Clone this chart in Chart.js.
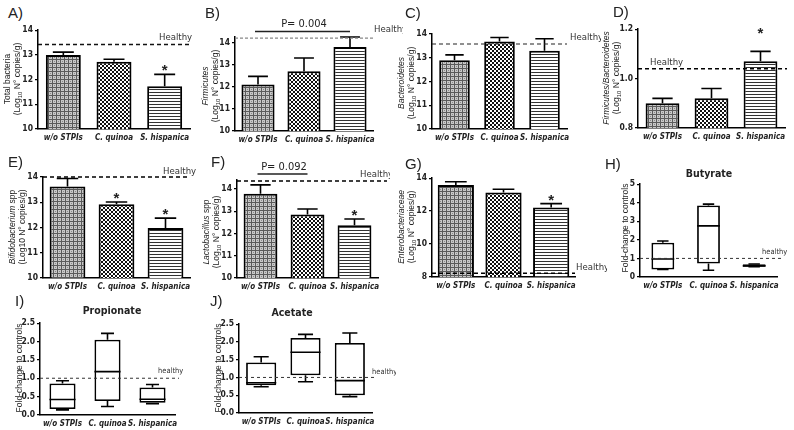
<!DOCTYPE html>
<html><head><meta charset="utf-8">
<script src="https://cdn.jsdelivr.net/npm/chart.js@4"></script>
<style>
body{margin:0;background:#fff;}
#wrap{position:relative;width:794px;height:430px;overflow:hidden;background:#fff;font-family:"Liberation Sans",Arial,sans-serif;color:#222;}
</style></head>
<body><div id="wrap"></div>
<script>
// ---------------- data ----------------
const categories = ['w/o STPIs', 'C. quinoa', 'S. hispanica'];

const totalBacteriaMean = [12.99, 12.72, 11.73];
const totalBacteriaSem  = [0.12, 0.1, 0.48];
const totalBacteriaHealthy = 13.42;

const firmicutesMean = [12.1, 12.7, 13.8];
const firmicutesSem  = [0.37, 0.6, 0.45];
const firmicutesHealthy = 14.2;

const bacteroidetesMean = [12.9, 13.68, 13.3];
const bacteroidetesSem  = [0.22, 0.17, 0.5];
const bacteroidetesHealthy = 13.58;

const fbRatioMean = [0.90, 0.92, 1.07];
const fbRatioSem  = [0.02, 0.04, 0.04];
const fbRatioHealthy = 1.04;

const bifidoMean = [13.62, 12.92, 11.98];
const bifidoSem  = [0.32, 0.09, 0.39];
const bifidoHealthy = 14.0;

const lactoMean = [13.78, 12.85, 12.37];
const lactoSem  = [0.4, 0.25, 0.28];
const lactoHealthy = 14.36;

const enteroMean = [13.58, 13.12, 12.22];
const enteroSem  = [0.2, 0.2, 0.23];
const enteroHealthy = 8.22;

// box stats: [min, q1, median, q3, max]
const butyrateBox   = [[0.4, 0.4, 0.97, 1.85, 1.94], [0.36, 0.72, 2.75, 3.85, 3.92], [0.55, 0.55, 0.6, 0.68, 0.7]];
const propionateBox = [[0.14, 0.16, 0.42, 0.86, 0.93], [0.23, 0.38, 1.18, 2.05, 2.22], [0.31, 0.33, 0.43, 0.75, 0.83]];
const acetateBox    = [[0.74, 0.78, 0.85, 1.42, 1.58], [0.88, 1.06, 1.71, 2.11, 2.21], [0.46, 0.5, 0.91, 1.97, 2.25]];
const scfaHealthy = 1.0;

const log14Ticks = [10, 11, 12, 13, 14];
const ratioTicks = [0.8, 1.0, 1.2];
const enteroTicks = [8, 10, 12, 14];
const butyrateTicks = [0, 1, 2, 3, 4, 5];
const scfaTicks = [0, 0.5, 1.0, 1.5, 2.0, 2.5];

// ---------------- rendering ----------------
const FONT = '"Liberation Sans", Arial, sans-serif';
const NARROW = '"Liberation Sans Narrow", "DejaVu Sans Condensed", "Liberation Sans", sans-serif';
Chart.defaults.font.family = NARROW;
const wrap = document.getElementById('wrap');

function makePattern(kind){
  const t = document.createElement('canvas');
  const g = t.getContext('2d');
  if(kind === 'grid'){
    t.width = 4; t.height = 4;
    g.fillStyle = '#c8c8c8'; g.fillRect(0,0,4,4);
    g.fillStyle = '#5a5a5a'; g.fillRect(0,0,4,1); g.fillRect(0,0,1,4);
    g.fillStyle = '#8a8a8a'; g.fillRect(2,2,1,1);
  } else if(kind === 'checker'){
    t.width = 4; t.height = 4;
    g.fillStyle = '#fff'; g.fillRect(0,0,4,4);
    g.fillStyle = '#111'; g.fillRect(0,0,2,2); g.fillRect(2,2,2,2);
  } else {
    t.width = 4; t.height = 3;
    g.fillStyle = '#fff'; g.fillRect(0,0,4,3);
    g.fillStyle = '#333'; g.fillRect(0,0,4,1);
  }
  return g.createPattern(t, 'repeat');
}
const barFills = [makePattern('grid'), makePattern('checker'), makePattern('stripes')];

function addText(html, css){
  const d = document.createElement('div');
  d.innerHTML = html;
  d.style.cssText = 'position:absolute;white-space:nowrap;' + css;
  wrap.appendChild(d);
  return d;
}
function yTitle(html, cx, cy, size, lh){
  const s = size || 8.5;
  addText(html, `left:${cx}px;top:${cy}px;transform:translate(-50%,-50%) rotate(-90deg);text-align:center;font:${s}px/${lh || 9.5}px ${FONT};color:#222;`);
}
function letter(t, x, y){
  addText(t, `left:${x}px;top:${y}px;font:15px ${FONT};color:#222;`);
}
function title(t, cx, cy){
  addText(t, `left:${cx}px;top:${cy}px;transform:translate(-50%,-50%);font:bold 10.5px ${NARROW};color:#222;`);
}
const SUB = '<sub style="font-size:6px;line-height:0">10</sub>';

function buildPanel(p){
  const yW = p.yW ?? 22, xH = p.xH ?? 15, pt = p.pt ?? 7, pr = p.pr ?? 6;
  const cl = p.L - yW, ct = p.T - pt;
  const w = p.R - p.L + yW + pr, h = p.B - p.T + pt + xH;
  const c = document.createElement('canvas');
  c.width = w; c.height = h;
  c.style.cssText = `position:absolute;left:${cl}px;top:${ct}px;width:${w}px;height:${h}px;`;
  wrap.appendChild(c);
  const isBox = !!p.box;
  const data = isBox ? p.box.map(s => [s[1], s[3]]) : p.mean;

  const decor = {
    id: 'decor' + p.id,
    afterDatasetsDraw(chart){
      const ctx = chart.ctx, ys = chart.scales.y, ca = chart.chartArea;
      const els = chart.getDatasetMeta(0).data;
      ctx.save();
      ctx.strokeStyle = '#000';
      ctx.lineWidth = p.ebW ?? 1.6;
      if(isBox){
        els.forEach((el, i) => {
          const s = p.box[i], x = el.x, hw = el.width / 2, cw = el.width * 0.25;
          const py = v => ys.getPixelForValue(v);
          ctx.beginPath();
          ctx.moveTo(x, py(s[3])); ctx.lineTo(x, py(s[4]));
          ctx.moveTo(x - cw, py(s[4])); ctx.lineTo(x + cw, py(s[4]));
          ctx.moveTo(x, py(s[1])); ctx.lineTo(x, py(s[0]));
          ctx.moveTo(x - cw, py(s[0])); ctx.lineTo(x + cw, py(s[0]));
          ctx.moveTo(x - hw, py(s[2])); ctx.lineTo(x + hw, py(s[2]));
          ctx.stroke();
        });
      } else {
        els.forEach((el, i) => {
          const x = el.x, yE = ys.getPixelForValue(p.mean[i] + p.sem[i]), cw = el.width * 0.3;
          ctx.beginPath();
          ctx.moveTo(x, el.y); ctx.lineTo(x, yE);
          ctx.moveTo(x - cw, yE); ctx.lineTo(x + cw, yE);
          ctx.stroke();
          if((p.stars || []).includes(i)){
            ctx.fillStyle = '#222';
            ctx.font = `bold 15px ${FONT}`;
            ctx.textAlign = 'center'; ctx.textBaseline = 'alphabetic';
            ctx.fillText('*', x, yE + (p.starDy ?? 1));
          }
        });
      }
      // P-value bracket
      if(p.pval){
        const y = ys.getPixelForValue(p.pval.at);
        const x1 = els[p.pval.from].x, x2 = els[p.pval.to].x;
        ctx.lineWidth = 1.5; ctx.strokeStyle = '#222';
        ctx.beginPath(); ctx.moveTo(x1 - 3, y); ctx.lineTo(x2, y); ctx.stroke();
        ctx.fillStyle = '#222'; ctx.font = `11px ${NARROW}`;
        ctx.textAlign = 'center'; ctx.textBaseline = 'alphabetic';
        ctx.fillText(p.pval.text, (x1 + x2) / 2, y - 4);
      }
      // healthy reference line
      const hy = ys.getPixelForValue(p.healthy);
      ctx.setLineDash(p.hDash || [4, 3]);
      ctx.strokeStyle = p.hColor || '#000';
      ctx.lineWidth = p.hW ?? 1.5;
      ctx.beginPath(); ctx.moveTo(ca.left, hy); ctx.lineTo(ca.right + (p.hExt ?? 0), hy); ctx.stroke();
      ctx.setLineDash([]);
      ctx.fillStyle = p.hTextColor || '#333';
      ctx.font = `${p.hSize || 9.5}px ${NARROW}`;
      ctx.textAlign = 'left'; ctx.textBaseline = 'alphabetic';
      ctx.fillText(p.hText || 'Healthy', p.hx - cl, hy + (p.hdy ?? -4));
      ctx.restore();
    }
  };

  new Chart(c, {
    type: 'bar',
    data: {
      labels: categories,
      datasets: [{
        data,
        backgroundColor: isBox ? '#fff' : barFills,
        borderColor: '#000',
        borderWidth: isBox ? 1.8 : 2,
        borderSkipped: isBox ? false : 'start',
        barPercentage: p.bp ?? 0.7,
        categoryPercentage: 1
      }]
    },
    options: {
      responsive: false, animation: false, devicePixelRatio: 1,
      layout: { padding: { top: pt, right: pr, left: 0, bottom: 0 } },
      plugins: { legend: { display: false }, tooltip: { enabled: false }, title: { display: false } },
      scales: {
        x: {
          type: 'category', offset: true,
          grid: { display: true, drawOnChartArea: false, drawTicks: false },
          border: { display: true, color: '#000', width: 1.5 },
          ticks: { font: { family: NARROW, size: 8, style: 'italic', weight: 'bold' }, color: '#222', padding: 4, maxRotation: 0, minRotation: 0, autoSkip: false },
          afterFit: s => { s.height = xH; }
        },
        y: {
          min: p.min, max: p.max,
          grid: { display: true, drawOnChartArea: false, drawTicks: true, tickLength: 3, color: '#000', lineWidth: 1.2 },
          border: { display: true, color: '#000', width: 1.5 },
          ticks: { font: { family: NARROW, size: 8.5, weight: 'bold' }, color: '#222', padding: 2,
                   callback: v => p.dec ? Number(v).toFixed(1) : String(v) },
          afterBuildTicks: s => { s.ticks = p.ticks.map(v => ({ value: v })); },
          afterFit: s => { s.width = yW; }
        }
      }
    },
    plugins: [decor]
  });
}

const panels = [
  { id:'A', L:38, R:190, T:30, B:129, min:10, max:14, ticks:log14Ticks, mean:totalBacteriaMean, sem:totalBacteriaSem,
    healthy:totalBacteriaHealthy, stars:[2], bp:0.69, hx:159, hdy:-4, hColor:'#111' },
  { id:'B', L:235, R:373, T:37, B:131, min:10, max:14.25, ticks:log14Ticks, mean:firmicutesMean, sem:firmicutesSem,
    healthy:firmicutesHealthy, bp:0.72, hx:374, hdy:-6, pr:30, pt:22, hColor:'#888', hW:1.2, hDash:[3,2],
    pval:{ from:0, to:2, at:14.5, text:'P= 0.004' } },
  { id:'C', L:432, R:567, T:34, B:129, min:10, max:14, ticks:log14Ticks, mean:bacteroidetesMean, sem:bacteroidetesSem,
    healthy:bacteroidetesHealthy, bp:0.68, hx:570, hdy:-4, pr:34, pt:10, hW:1.2, hColor:'#222' },
  { id:'D', L:638, R:785, T:29, B:128, min:0.8, max:1.2, ticks:ratioTicks, dec:true, mean:fbRatioMean, sem:fbRatioSem,
    healthy:fbRatioHealthy, stars:[2], starDy:-13, bp:0.69, hx:650, hdy:-4, pr:8, hExt:2 },
  { id:'E', L:43, R:190, T:177, B:278, min:10, max:14, ticks:log14Ticks, mean:bifidoMean, sem:bifidoSem,
    healthy:bifidoHealthy, stars:[1,2], bp:0.73, hx:163, hdy:-3, pt:16 },
  { id:'F', L:237, R:378, T:180, B:278, min:10, max:14.4, ticks:log14Ticks, mean:lactoMean, sem:lactoSem,
    healthy:lactoHealthy, stars:[2], bp:0.72, hx:360, hdy:-4, pt:22, pr:12, hExt:9,
    pval:{ from:0, to:1, at:14.67, text:'P= 0.092' } },
  { id:'G', L:432, R:575, T:178, B:277, min:8, max:14, ticks:enteroTicks, mean:enteroMean, sem:enteroSem,
    healthy:enteroHealthy, stars:[2], bp:0.76, hx:576, hdy:-3, pr:32 },
  { id:'H', L:640, R:777, T:184, B:277, min:0, max:5, ticks:butyrateTicks, box:butyrateBox,
    healthy:scfaHealthy, bp:0.5, hx:762, hdy:-4, pr:15, hExt:6, hColor:'#333', hW:1, hDash:[3,3], hText:'healthy', hSize:7.5 },
  { id:'I', L:40, R:175, T:323, B:415, min:0, max:2.5, ticks:scfaTicks, dec:true, box:propionateBox,
    healthy:scfaHealthy, bp:0.58, hx:158, hdy:-5, pr:10, hExt:4, hColor:'#333', hW:1, hDash:[3,3], hText:'healthy', hSize:7.5, xH:14 },
  { id:'J', L:239, R:372, T:324, B:413, min:0, max:2.5, ticks:scfaTicks, dec:true, box:acetateBox,
    healthy:scfaHealthy, bp:0.68, hx:372, hdy:-3, pr:24, hExt:3, hColor:'#333', hW:1, hDash:[3,3], hText:'healthy', hSize:7.5, xH:14 }
];
panels.forEach(buildPanel);

// panel letters
letter('A)', 8, 4); letter('B)', 205, 4); letter('C)', 405, 4); letter('D)', 613, 3);
letter('E)', 8, 153); letter('F)', 211, 153); letter('G)', 405, 155); letter('H)', 605, 155);
letter('I)', 15, 292); letter('J)', 210, 292);

// axis titles
yTitle('Total bacteria<br>(Log' + SUB + ' N° copies/g)', 12, 79);
yTitle('<i>Firmicutes</i><br>(Log' + SUB + ' N° copies/g)', 210, 86);
yTitle('<i>Bacteroidetes</i><br>(Log' + SUB + ' N° copies/g)', 406, 83);
yTitle('<i>Firmicutes/Bacteroidetes</i><br>(Log' + SUB + ' N° copies/g)', 611, 78);
yTitle('<i>Bifidobacterium</i> spp<br>(Log10 N° copies/g)', 17, 227);
yTitle('<i>Lactobacillus</i> spp<br>(Log' + SUB + ' N° copies/g)', 211, 232);
yTitle('<i>Enterobacteriaceae</i><br>(Log' + SUB + ' N° copies/g)', 406, 227);
yTitle('Fold-change to controls', 626, 228, 8.5);
yTitle('Fold-change to controls', 20, 368, 8.5);
yTitle('Fold-change to controls', 219, 368, 8.5);

// chart titles
title('Butyrate', 709, 173);
title('Propionate', 112, 310);
title('Acetate', 292, 312);
</script>
</body></html>
